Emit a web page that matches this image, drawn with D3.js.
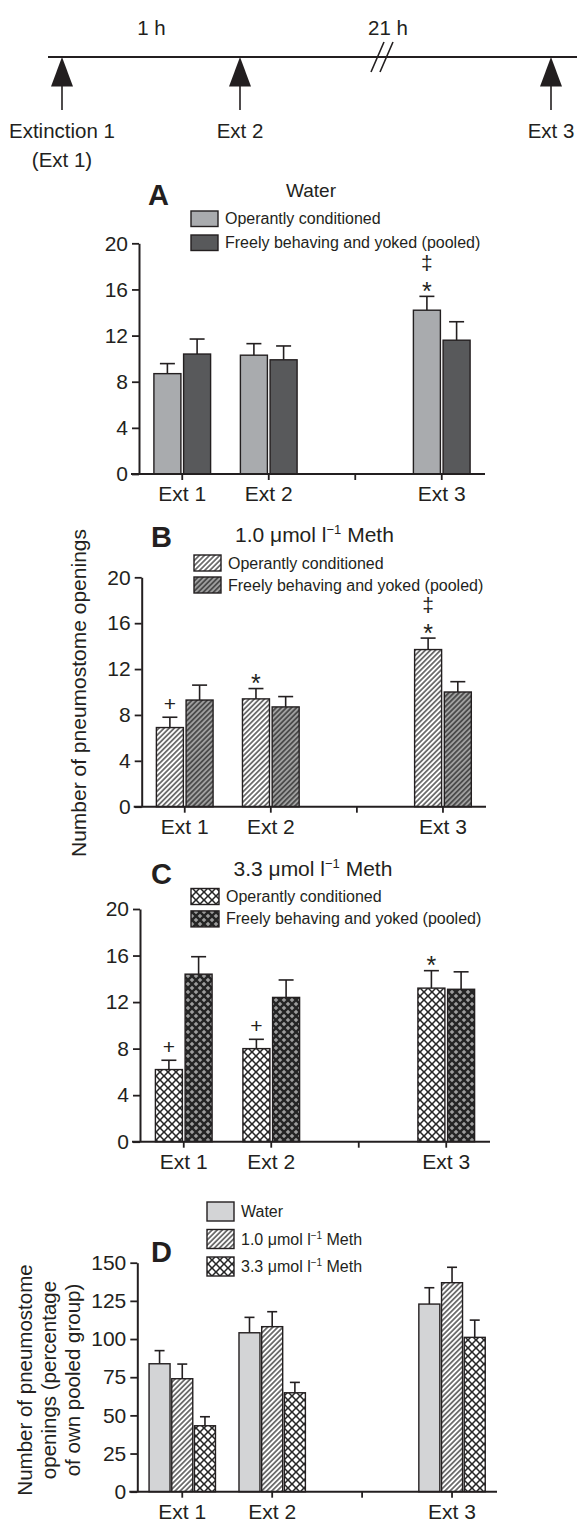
<!DOCTYPE html>
<html><head><meta charset="utf-8">
<script src="https://cdn.jsdelivr.net/npm/d3@7"></script>
<style>
body{margin:0;background:#fff}
svg{display:block}
text{font-family:"Liberation Sans",Arial,Helvetica,sans-serif;fill:#231f20}
</style>
</head><body>
<svg id="chart" width="577" height="1522"></svg>
<script>
// ---------------- data ----------------
const categories = ["Ext 1", "Ext 2", "", "Ext 3"];      // "" = unlabeled 21 h gap slot
const dataCategories = ["Ext 1", "Ext 2", "Ext 3"];
const groupNames = ["Operantly conditioned", "Freely behaving and yoked (pooled)"];
const ticks20 = [0, 4, 8, 12, 16, 20];
const ticks150 = [0, 25, 50, 75, 100, 125, 150];

// Panel A: Water
const waterOperant = [8.7, 10.3, 14.2];
const waterOperantErr = [0.87, 1.0, 1.2];
const waterPooled = [10.4, 9.9, 11.6];
const waterPooledErr = [1.3, 1.2, 1.6];

// Panel B: 1.0 umol/l Meth
const meth1Operant = [6.9, 9.4, 13.7];
const meth1OperantErr = [0.9, 0.9, 1.0];
const meth1Pooled = [9.3, 8.7, 10.0];
const meth1PooledErr = [1.3, 0.9, 0.9];

// Panel C: 3.3 umol/l Meth
const meth3Operant = [6.2, 8.0, 13.2];
const meth3OperantErr = [0.8, 0.8, 1.5];
const meth3Pooled = [14.4, 12.4, 13.1];
const meth3PooledErr = [1.5, 1.5, 1.5];

// Panel D: percentage of own pooled group
const dSeriesNames = ["Water", "1.0", "3.3"];
const pctWater = [83.8, 104.1, 122.9];
const pctWaterErr = [8.6, 10.1, 10.7];
const pctMeth1 = [74.0, 108.1, 136.9];
const pctMeth1Err = [9.6, 9.8, 10.1];
const pctMeth3 = [43.2, 64.8, 101.1];
const pctMeth3Err = [5.9, 6.8, 11.3];

// significance markers (category, series index, symbols bottom->top)
const markersA = [["Ext 3", 0, ["*", "‡"]]];
const markersB = [["Ext 1", 0, ["+"]], ["Ext 2", 0, ["*"]], ["Ext 3", 0, ["*", "‡"]]];
const markersC = [["Ext 1", 0, ["+"]], ["Ext 2", 0, ["+"]], ["Ext 3", 0, ["*"]]];

// timeline
const timelineEvents = ["Extinction 1", "Ext 2", "Ext 3"];
const timelineSub = ["(Ext 1)", "", ""];
const timelineIntervals = ["1 h", "21 h"];

// ---------------- drawing ----------------
const INK = "#231f20";
const svg = d3.select("#chart");
const defs = svg.append("defs");

function hatch(id, bg, ink) {
  const s = 3.6;
  const p = defs.append("pattern").attr("id", id).attr("patternUnits", "userSpaceOnUse")
    .attr("width", s).attr("height", s).attr("patternTransform", "rotate(45)");
  p.append("rect").attr("width", s).attr("height", s).attr("fill", bg);
  p.append("line").attr("x1", 0.9).attr("x2", 0.9).attr("y1", 0).attr("y2", s)
    .attr("stroke", ink).attr("stroke-width", 1.3);
}
function cross(id, bg, cell, r) {
  const s = 8;
  const p = defs.append("pattern").attr("id", id).attr("patternUnits", "userSpaceOnUse")
    .attr("width", s).attr("height", s);
  p.append("rect").attr("width", s).attr("height", s).attr("fill", bg);
  [[4, 0], [0, 4], [8, 4], [4, 8]].forEach(([cx, cy]) => {
    p.append("path").attr("d", `M${cx},${cy - r}L${cx + r},${cy}L${cx},${cy + r}L${cx - r},${cy}Z`)
      .attr("fill", cell);
  });
}
hatch("hatchLight", "#ffffff", "#333333");
hatch("hatchDark", "#a0a0a0", "#2a2a2a");
cross("crossLight", "#262626", "#ffffff", 2.9);
cross("crossDark", "#242424", "#9c9c9c", 2.3);

const fills = {
  waterOp: "#a9abae", waterPool: "#58595b", waterD: "#d3d4d6",
  m1Op: "url(#hatchLight)", m1Pool: "url(#hatchDark)",
  m3Op: "url(#crossLight)", m3Pool: "url(#crossDark)"
};

function symSize(sym) { return sym === "*" ? 25 : 21; }
function symShift(sym) { // distance from visual center to baseline
  if (sym === "*") return 0.58 * 25;
  if (sym === "+") return 7.4;
  return 6;
}

function drawPanel(cfg) {
  const g = svg.append("g");
  const y = d3.scaleLinear().domain([0, cfg.max]).range([cfg.yBot, cfg.yTop]);
  const x = d3.scaleBand().domain(categories).range([cfg.x0, cfg.x1]).padding(0);
  const n = cfg.series.length;
  const groupW = n * cfg.barW + (n - 1) * cfg.gap;
  const xi = d3.scaleBand().domain(d3.range(n)).range([-groupW / 2, groupW / 2])
    .paddingInner(cfg.gap / (cfg.barW + cfg.gap)).paddingOuter(0);
  const cx = c => x(c) + x.bandwidth() / 2;

  cfg.series.forEach((s, si) => {
    const rows = dataCategories.map((c, i) => ({c, v: s.vals[i], e: s.errs[i]}));
    const gs = g.append("g");
    gs.selectAll("line.err").data(rows).join("line")
      .attr("x1", d => cx(d.c) + xi(si) + xi.bandwidth() / 2)
      .attr("x2", d => cx(d.c) + xi(si) + xi.bandwidth() / 2)
      .attr("y1", d => y(d.v)).attr("y2", d => y(d.v + d.e))
      .attr("stroke", INK).attr("stroke-width", 1.6);
    gs.selectAll("line.cap").data(rows).join("line")
      .attr("x1", d => cx(d.c) + xi(si) + xi.bandwidth() / 2 - cfg.capW / 2)
      .attr("x2", d => cx(d.c) + xi(si) + xi.bandwidth() / 2 + cfg.capW / 2)
      .attr("y1", d => y(d.v + d.e)).attr("y2", d => y(d.v + d.e))
      .attr("stroke", INK).attr("stroke-width", 1.6);
    gs.selectAll("rect").data(rows).join("rect")
      .attr("x", d => cx(d.c) + xi(si))
      .attr("width", xi.bandwidth())
      .attr("y", d => y(d.v)).attr("height", d => y(0) - y(d.v))
      .attr("fill", s.fill).attr("stroke", INK).attr("stroke-width", 1.4);
  });

  (cfg.markers || []).forEach(([c, si, syms]) => {
    const s = cfg.series[si];
    const i = dataCategories.indexOf(c);
    const top = y(s.vals[i] + s.errs[i]);
    const mx = cx(c) + xi(si) + xi.bandwidth() / 2;
    syms.forEach((sym, k) => {
      const center = k === 0 ? top - (sym === "*" ? 11 : 14) : top - 32;
      g.append("text").attr("x", mx).attr("y", center + symShift(sym))
        .attr("text-anchor", "middle").attr("font-size", symSize(sym)).text(sym);
    });
  });

  const ya = g.append("g").attr("transform", `translate(${cfg.x0},0)`)
    .call(d3.axisLeft(y).tickValues(cfg.ticks).tickSize(7).tickSizeOuter(0).tickPadding(4));
  const xa = g.append("g").attr("transform", `translate(0,${cfg.yBot})`)
    .call(d3.axisBottom(x).tickSize(6).tickSizeOuter(0).tickPadding(6));
  [ya, xa].forEach(a => {
    a.selectAll("path.domain").attr("stroke", INK).attr("stroke-width", 2);
    a.selectAll(".tick line").attr("stroke", INK).attr("stroke-width", 1.8);
    a.selectAll(".tick text").attr("font-size", 21)
      .attr("font-family", '"Liberation Sans",Arial,sans-serif').attr("fill", INK);
  });
  xa.select("path.domain").attr("d", `M${cfg.x0 - 8},0H${cfg.x1}`);

  g.append("text").attr("x", cfg.letter[1]).attr("y", cfg.letter[2])
    .attr("font-size", 29).attr("font-weight", "bold").text(cfg.letter[0]);

  if (cfg.title) {
    const t = g.append("text").attr("x", cfg.title.x).attr("y", cfg.title.y)
      .attr("font-size", cfg.title.size);
    t.append("tspan").text(cfg.title.parts[0]);
    if (cfg.title.parts.length > 1) {
      t.append("tspan").attr("font-size", cfg.title.size * 0.62).attr("dy", -cfg.title.size * 0.4)
        .text(cfg.title.parts[1]);
      t.append("tspan").attr("dy", cfg.title.size * 0.4).text(cfg.title.parts[2]);
    }
  }

  const L = cfg.legend;
  L.items.forEach((it, k) => {
    const ly = L.y + k * L.step;
    g.append("rect").attr("x", L.x).attr("y", ly).attr("width", L.w).attr("height", L.h)
      .attr("fill", it.fill).attr("stroke", INK).attr("stroke-width", 1.4);
    const t = g.append("text").attr("x", L.x + L.w + 7).attr("y", ly + L.h / 2 + 5.5)
      .attr("font-size", 16);
    if (Array.isArray(it.label)) {
      t.append("tspan").text(it.label[0]);
      t.append("tspan").attr("font-size", 10).attr("dy", -6).text(it.label[1]);
      t.append("tspan").attr("dy", 6).text(it.label[2]);
    } else t.text(it.label);
  });
  return g;
}

drawPanel({
  x0: 139, x1: 485, yTop: 243.3, yBot: 474, max: 20, ticks: ticks20,
  barW: 27, gap: 2.7, capW: 15,
  series: [
    {vals: waterOperant, errs: waterOperantErr, fill: fills.waterOp},
    {vals: waterPooled, errs: waterPooledErr, fill: fills.waterPool}
  ],
  markers: markersA,
  letter: ["A", 148, 205],
  title: {x: 286, y: 197, size: 19, parts: ["Water"]},
  legend: {x: 191, y: 211, step: 24, w: 27, h: 15.5, items: [
    {label: groupNames[0], fill: fills.waterOp},
    {label: groupNames[1], fill: fills.waterPool}]}
});

drawPanel({
  x0: 141.7, x1: 486, yTop: 577.3, yBot: 806.7, max: 20, ticks: ticks20,
  barW: 27, gap: 2.7, capW: 15,
  series: [
    {vals: meth1Operant, errs: meth1OperantErr, fill: fills.m1Op},
    {vals: meth1Pooled, errs: meth1PooledErr, fill: fills.m1Pool}
  ],
  markers: markersB,
  letter: ["B", 151, 546.7],
  title: {x: 235, y: 542, size: 21, parts: ["1.0 μmol l", "−1", " Meth"]},
  legend: {x: 194, y: 555, step: 22, w: 27, h: 16, items: [
    {label: groupNames[0], fill: fills.m1Op},
    {label: groupNames[1], fill: fills.m1Pool}]}
});

drawPanel({
  x0: 140, x1: 490, yTop: 909, yBot: 1141.7, max: 20, ticks: ticks20,
  barW: 27, gap: 2.7, capW: 15,
  series: [
    {vals: meth3Operant, errs: meth3OperantErr, fill: fills.m3Op},
    {vals: meth3Pooled, errs: meth3PooledErr, fill: fills.m3Pool}
  ],
  markers: markersC,
  letter: ["C", 151, 884],
  title: {x: 233.5, y: 876, size: 21, parts: ["3.3 μmol l", "−1", " Meth"]},
  legend: {x: 191, y: 888.5, step: 22.4, w: 28, h: 16, items: [
    {label: groupNames[0], fill: fills.m3Op},
    {label: groupNames[1], fill: fills.m3Pool}]}
});

drawPanel({
  x0: 137.3, x1: 497, yTop: 1262.7, yBot: 1491.7, max: 150, ticks: ticks150,
  barW: 21, gap: 1.7, capW: 10,
  series: [
    {vals: pctWater, errs: pctWaterErr, fill: fills.waterD},
    {vals: pctMeth1, errs: pctMeth1Err, fill: fills.m1Op},
    {vals: pctMeth3, errs: pctMeth3Err, fill: fills.m3Op}
  ],
  markers: [],
  letter: ["D", 151, 1261.5],
  title: null,
  legend: {x: 207, y: 1202, step: 27.5, w: 27, h: 19, items: [
    {label: dSeriesNames[0], fill: fills.waterD},
    {label: [dSeriesNames[1] + " μmol l", "−1", " Meth"], fill: fills.m1Op},
    {label: [dSeriesNames[2] + " μmol l", "−1", " Meth"], fill: fills.m3Op}]}
});

svg.append("text").attr("transform", "translate(86,693) rotate(-90)")
  .attr("text-anchor", "middle").attr("font-size", 21)
  .text("Number of pneumostome openings");
const dLabel = ["Number of pneumostome", "openings (percentage", "of own pooled group)"];
svg.selectAll("text.dlab").data(dLabel).join("text")
  .attr("transform", (d, i) => `translate(${32 + i * 24},1380) rotate(-90)`)
  .attr("text-anchor", "middle").attr("font-size", 20.5).text(d => d);

// ---------------- timeline ----------------
const tl = svg.append("g");
const tx = d3.scaleOrdinal().domain(timelineEvents).range([62, 240, 551]);
const lineY = 57;
tl.append("line").attr("x1", 48).attr("x2", 577).attr("y1", lineY).attr("y2", lineY)
  .attr("stroke", INK).attr("stroke-width", 1.8);
timelineEvents.forEach((ev, i) => {
  const x = tx(ev);
  tl.append("path").attr("d", `M${x},${lineY}L${x + 11},${lineY + 29.5}L${x - 11},${lineY + 29.5}Z`)
    .attr("fill", INK);
  tl.append("line").attr("x1", x).attr("x2", x).attr("y1", lineY + 28).attr("y2", 110)
    .attr("stroke", INK).attr("stroke-width", 1.6);
  tl.append("text").attr("x", x).attr("y", 138).attr("text-anchor", "middle")
    .attr("font-size", 20.5).text(ev);
  if (timelineSub[i]) tl.append("text").attr("x", x).attr("y", 167).attr("text-anchor", "middle")
    .attr("font-size", 20.5).text(timelineSub[i]);
});
const intervalX = d3.scaleOrdinal().domain(timelineIntervals).range([151.5, 388]);
timelineIntervals.forEach(t => {
  tl.append("text").attr("x", intervalX(t)).attr("y", 34.5).attr("text-anchor", "middle")
    .attr("font-size", 20.5).text(t);
});
tl.append("path").attr("d", "M371,72L384,42M380,72L393,42")
  .attr("stroke", INK).attr("stroke-width", 1.6).attr("fill", "none");
</script>
</body></html>
